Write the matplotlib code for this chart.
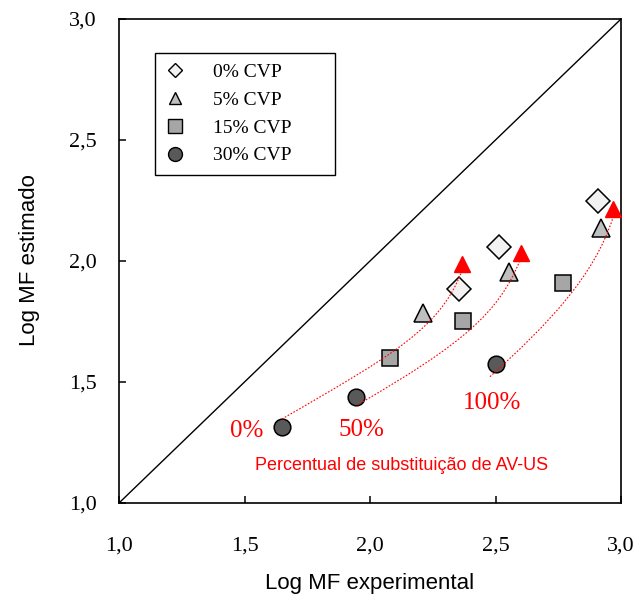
import numpy as np
import matplotlib
matplotlib.use("Agg")
import matplotlib.pyplot as plt
from matplotlib.lines import Line2D
from matplotlib.path import Path
from matplotlib.patches import PathPatch

plt.rcParams["font.family"] = ["Liberation Serif", "DejaVu Serif"]

# pontos por teor de CVP (Log MF experimental, Log MF estimado)
cvp_labels = ["0% CVP", "5% CVP", "15% CVP", "30% CVP"]
x_cvp0 = [2.355, 2.514, 2.908]
y_cvp0 = [1.884, 2.058, 2.248]
x_cvp5 = [2.211, 2.554, 2.920]
y_cvp5 = [1.785, 1.955, 2.136]
x_cvp15 = [2.080, 2.371, 2.769]
y_cvp15 = [1.599, 1.752, 1.909]
x_cvp30 = [1.649, 1.944, 2.502]
y_cvp30 = [1.314, 1.438, 1.574]

# setas de tendencia (substituicao de AV-US)
arrow_start_x = [1.649, 1.949, 2.478]
arrow_start_y = [1.347, 1.405, 1.522]
arrow_end_x = [2.363, 2.598, 2.967]
arrow_end_y = [1.950, 2.004, 2.176]
arrow_head_x = [2.367, 2.600, 2.967]
arrow_head_y = [1.988, 2.035, 2.216]
# angulo inicial/final da curva (graus, na tela) e tamanho das alças
arrow_ang_start = [30, 30, 42]
arrow_ang_end = [68, 68, 72]
arrow_hand_start = [0.56, 0.56, 0.40]
arrow_hand_end = [0.26, 0.26, 0.30]

subst_labels = ["0%", "50%", "100%"]
subst_x = [1.510, 1.964, 2.486]
subst_y = [1.298, 1.302, 1.413]

ticks = [1.0, 1.5, 2.0, 2.5, 3.0]
tick_labels = ["1,0", "1,5", "2,0", "2,5", "3,0"]

fig = plt.figure(figsize=(6.36, 5.99), dpi=100)
ax = fig.add_axes([119 / 636, 96 / 599, 502 / 636, 484 / 599])
ax.set_xlim(1, 3)
ax.set_ylim(1, 3)

ax.plot([1, 3], [1, 3], color="black", lw=1.0, zorder=1)

styles = [
    ("D", "#f2f2f2", 12.0, 7.0),
    ("^", "#bfbfbf", 13.5, 9.0),
    ("s", "#a6a6a6", 12.0, 10.0),
    ("o", "#595959", 12.0, 10.0),
]
xs = [x_cvp0, x_cvp5, x_cvp15, x_cvp30]
ys = [y_cvp0, y_cvp5, y_cvp15, y_cvp30]
handles = []
for (m, c, ms, ms_leg), x, y, lab in zip(styles, xs, ys, cvp_labels):
    ax.plot(x, y, ls="none", marker=m, ms=ms, mfc=c, mec="black", mew=1.1, zorder=3)
    handles.append(Line2D([], [], ls="none", marker=m, ms=ms_leg, mfc=c,
                          mec="black", mew=1.0, label=lab))

# curvas pontilhadas (bezier cubica montada em coordenadas de tela)
to_px = ax.transData
to_data = ax.transData.inverted()
for i in range(3):
    p0 = to_px.transform((arrow_start_x[i], arrow_start_y[i]))
    p3 = to_px.transform((arrow_end_x[i], arrow_end_y[i]))
    L = np.hypot(*(p3 - p0))
    a1 = np.radians(arrow_ang_start[i])
    a2 = np.radians(arrow_ang_end[i])
    p1 = p0 + arrow_hand_start[i] * L * np.array([np.cos(a1), np.sin(a1)])
    p2 = p3 - arrow_hand_end[i] * L * np.array([np.cos(a2), np.sin(a2)])
    verts = to_data.transform(np.array([p0, p1, p2, p3]))
    path = Path(verts, [Path.MOVETO, Path.CURVE4, Path.CURVE4, Path.CURVE4])
    ax.add_patch(PathPatch(path, fill=False, edgecolor="red", lw=0.8,
                           ls=(0, (1.5, 1.5)), zorder=4))
ax.plot(arrow_head_x, arrow_head_y, ls="none", marker="^", ms=11, color="red", zorder=5)

for lab, x, y in zip(subst_labels, subst_x, subst_y):
    ax.text(x, y, lab, color="red", fontsize=18, ha="center", va="center")
ax.text(2.127, 1.153, "Percentual de substituição de AV-US", color="red",
        fontsize=13, ha="center", va="center", family=["Liberation Sans", "DejaVu Sans"])

ax.set_xticks(ticks)
ax.set_xticklabels(tick_labels)
ax.set_yticks(ticks)
ax.set_yticklabels(tick_labels)
ax.tick_params(direction="in", length=5, width=1.1, labelsize=16)
ax.tick_params(axis="x", pad=24)
ax.tick_params(axis="y", pad=16)
for s in ax.spines.values():
    s.set_linewidth(1.2)

fig.text(0.5 * (119 + 621) / 636, 1 - 583 / 599, "Log MF experimental", fontsize=16,
         ha="center", va="center", family=["Liberation Sans", "DejaVu Sans"])
fig.text(30 / 636, 1 - 260 / 599, "Log MF estimado", fontsize=16, rotation=90,
         ha="center", va="center", family=["Liberation Sans", "DejaVu Sans"])

leg = ax.legend(handles=handles, loc="upper left", mode="expand",
                bbox_to_anchor=(36 / 502, 0.07, 180 / 502, 450 / 484 - 0.07),
                borderaxespad=0, fontsize=14, fancybox=False, framealpha=1,
                edgecolor="black", handlelength=1.0, handletextpad=1.45,
                labelspacing=0.52, borderpad=0.55)
leg.get_frame().set_linewidth(1.0)

fig.savefig("out.png", dpi=100)
